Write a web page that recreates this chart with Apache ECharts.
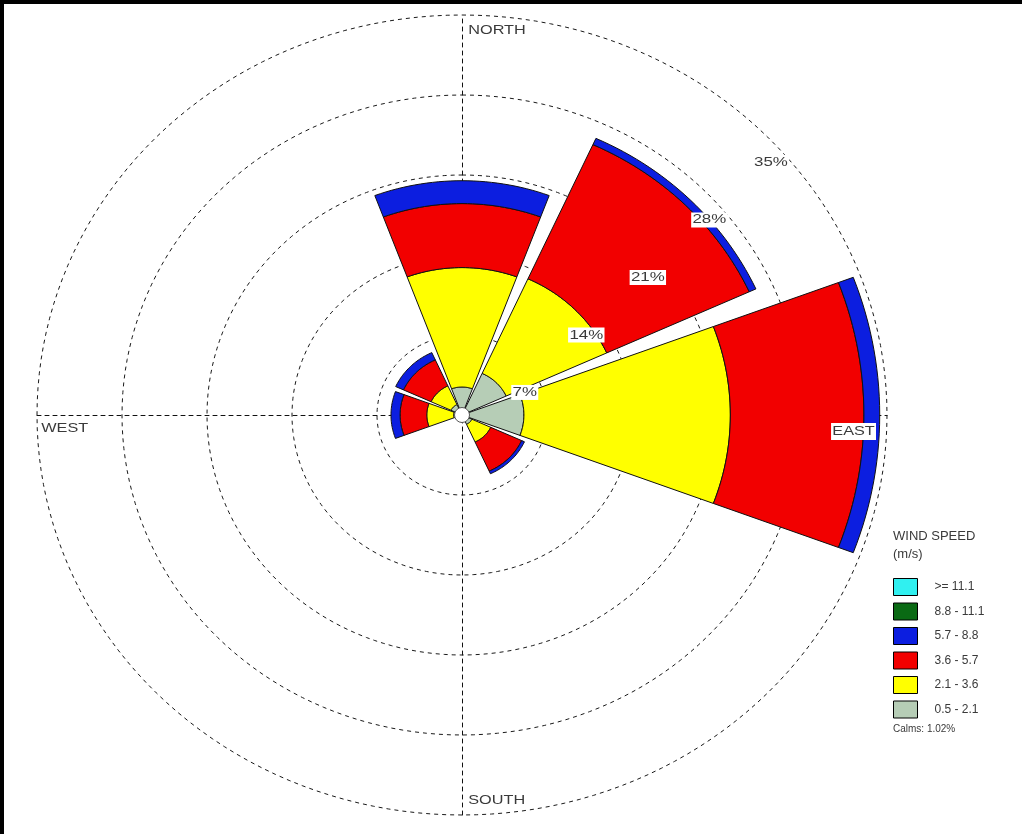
<!DOCTYPE html>
<html>
<head>
<meta charset="utf-8">
<script src="https://cdn.jsdelivr.net/npm/echarts@6/dist/echarts.min.js"></script>
<style>
html,body{margin:0;padding:0;background:#fff;}
#chart{width:1022px;height:834px;}
</style>
</head>
<body>
<div id="chart"></div>
<script>
// ---------- data ----------
const directions = ['N', 'NE', 'E', 'SE', 'S', 'SW', 'W', 'NW'];
const speedClasses = ['0.5 - 2.1', '2.1 - 3.6', '3.6 - 5.7', '5.7 - 8.8', '8.8 - 11.1', '>= 11.1'];
const speed_0_5_to_2_1  = [2.45, 4.0, 5.1, 0.9, 0.3, 0.2, 0.7, 1.0];
const speed_2_1_to_3_6  = [10.45, 9.1, 17.0, 1.7, 0, 0, 2.2, 1.8];
const speed_3_6_to_5_7  = [5.6, 12.9, 11.0, 2.8, 0, 0, 2.2, 2.5];
const speed_5_7_to_8_8  = [2.0, 0.6, 1.3, 0.25, 0, 0, 0.75, 0.7];
const speed_8_8_to_11_1 = [0, 0, 0, 0, 0, 0, 0, 0];
const speed_ge_11_1     = [0, 0, 0, 0, 0, 0, 0, 0];
const ringTicks = [7, 14, 21, 28, 35];
const ringTickLabels = ['7%', '14%', '21%', '28%', '35%'];
const compassLabels = ['NORTH', 'EAST', 'SOUTH', 'WEST'];
const legendTitle = 'WIND SPEED\n(m/s)';
const calmsText = 'Calms: 1.02%';

// ---------- styles ----------
const classColors = ['#b6cdb6', '#ffff00', '#f20000', '#0c1ee0', '#0a6a14', '#30f0f0'];
const FONT = '"Liberation Sans", Arial, sans-serif';
const TEXT_COLOR = '#3a3a3a';
const HALF_WIDTH = 20.5; // degrees, half of sector width
const MAX_R = 35;

const classValues = [speed_0_5_to_2_1, speed_2_1_to_3_6, speed_3_6_to_5_7,
                     speed_5_7_to_8_8, speed_8_8_to_11_1, speed_ge_11_1];

// cumulative stacking
const cumulative = directions.map(() => 0);
const sectorSeries = classValues.map((vals, ci) => {
  const data = vals.map((v, di) => {
    const start = cumulative[di];
    const end = start + v;
    cumulative[di] = end;
    return [di, start, end];
  });
  return {
    type: 'custom',
    name: speedClasses[ci],
    coordinateSystem: 'cartesian2d',
    z: 3,
    color: classColors[ci],
    itemStyle: { color: classColors[ci], borderColor: '#000', borderWidth: 1 },
    data: data,
    encode: { x: 1, y: 2 },
    renderItem: function (params, api) {
      const di = api.value(0), r0 = api.value(1), r1 = api.value(2);
      if (!(r1 - r0 > 0)) return;
      const c = di * 45, n = 30;
      const pts = [];
      for (let k = 0; k <= n; k++) {
        const a = (c - HALF_WIDTH + 2 * HALF_WIDTH * k / n) * Math.PI / 180;
        pts.push(api.coord([r1 * Math.sin(a), r1 * Math.cos(a)]));
      }
      if (r0 > 0) {
        for (let k = n; k >= 0; k--) {
          const a = (c - HALF_WIDTH + 2 * HALF_WIDTH * k / n) * Math.PI / 180;
          pts.push(api.coord([r0 * Math.sin(a), r0 * Math.cos(a)]));
        }
      } else {
        pts.push(api.coord([0, 0]));
      }
      return {
        type: 'polygon',
        shape: { points: pts },
        style: { fill: classColors[ci], stroke: '#111', lineWidth: 1 }
      };
    }
  };
});

const ringSeries = {
  type: 'custom',
  name: 'rings',
  coordinateSystem: 'cartesian2d',
  silent: true,
  z: 1,
  data: ringTicks.map(r => [r]),
  renderItem: function (params, api) {
    const r = api.value(0);
    const pts = [];
    for (let k = 0; k <= 180; k++) {
      const a = k * 2 * Math.PI / 180;
      pts.push(api.coord([r * Math.sin(a), r * Math.cos(a)]));
    }
    return {
      type: 'polyline',
      shape: { points: pts },
      style: { fill: null, stroke: '#1a1a1a', lineWidth: 1, lineDash: [4, 4] }
    };
  }
};

const ringLabelSeries = {
  type: 'custom',
  name: 'ringLabels',
  coordinateSystem: 'cartesian2d',
  silent: true,
  z: 10,
  data: ringTicks.map((r, i) => [r, i]),
  renderItem: function (params, api) {
    const r = api.value(0);
    const p = api.coord([0.724 * r + 0.1, 0.719 * r - 3.06]);
    return {
      type: 'text',
      x: p[0], y: p[1], scaleX: 1.3,
      style: {
        text: ringTickLabels[api.value(1)],
        fill: TEXT_COLOR, font: '13px ' + FONT,
        align: 'center', verticalAlign: 'middle',
        backgroundColor: '#fff', padding: [1, 1, 1, 1]
      }
    };
  }
};

const compassSeries = {
  type: 'custom',
  name: 'compass',
  coordinateSystem: 'cartesian2d',
  silent: true,
  z: 10,
  data: compassLabels.map((t, i) => [i * 90, i]),
  renderItem: function (params, api) {
    const ang = api.value(0) * Math.PI / 180;
    const idx = api.value(1);
    const p = api.coord([MAX_R * Math.sin(ang), MAX_R * Math.cos(ang)]);
    const cfg = [
      { dx: 5, dy: 7, align: 'left', va: 'top' },      // NORTH
      { dx: -11, dy: 8, align: 'right', va: 'top' },   // EAST
      { dx: 5, dy: -6, align: 'left', va: 'bottom' },  // SOUTH
      { dx: 3, dy: 5, align: 'left', va: 'top' }       // WEST
    ][idx];
    return {
      type: 'text',
      x: p[0] + cfg.dx, y: p[1] + cfg.dy, scaleX: 1.25,
      style: {
        text: compassLabels[idx],
        fill: TEXT_COLOR, font: '13px ' + FONT,
        align: cfg.align, verticalAlign: cfg.va,
        backgroundColor: '#fff', padding: [2, 1, 2, 1]
      }
    };
  }
};

const calmSeries = {
  type: 'custom',
  name: 'calm',
  coordinateSystem: 'cartesian2d',
  silent: true,
  z: 6,
  data: [[0, 0]],
  renderItem: function (params, api) {
    const p = api.coord([api.value(0), api.value(1)]);
    return {
      type: 'circle',
      shape: { cx: p[0], cy: p[1], r: 7.5 },
      style: { fill: '#fff', stroke: '#555', lineWidth: 1 }
    };
  }
};

const axisCommon = {
  type: 'value', min: -MAX_R, max: MAX_R,
  axisLine: { show: true, onZero: true, lineStyle: { color: '#111', width: 1, type: [4, 4] } },
  axisTick: { show: false }, axisLabel: { show: false }, splitLine: { show: false }
};

const chart = echarts.init(document.getElementById('chart'), null, { renderer: 'canvas' });
chart.setOption({
  animation: false,
  backgroundColor: '#fff',
  title: [
    { text: legendTitle, left: 893, top: 527, padding: 0,
      textStyle: { fontSize: 13, fontWeight: 'normal', color: TEXT_COLOR, fontFamily: FONT, lineHeight: 18 } },
    { text: calmsText, left: 893, top: 724, padding: 0,
      textStyle: { fontSize: 10, fontWeight: 'normal', color: TEXT_COLOR, fontFamily: FONT } }
  ],
  legend: {
    orient: 'vertical', left: 893, top: 578, padding: 0,
    itemWidth: 24, itemHeight: 17, itemGap: 6.5, icon: 'rect',
    selectedMode: false,
    data: speedClasses.slice().reverse(),
    itemStyle: { borderColor: '#000', borderWidth: 1 },
    textStyle: { fontSize: 12, color: TEXT_COLOR, fontFamily: FONT, padding: [0, 0, 0, 12] }
  },
  grid: { left: 37, top: 15, width: 850, height: 800 },
  xAxis: axisCommon,
  yAxis: axisCommon,
  graphic: [
    { type: 'rect', left: 0, top: 0, shape: { width: 1022, height: 4 }, style: { fill: '#000' }, z: 100 },
    { type: 'rect', left: 0, top: 0, shape: { width: 4, height: 834 }, style: { fill: '#000' }, z: 100 }
  ],
  series: [ringSeries].concat(sectorSeries, [calmSeries, ringLabelSeries, compassSeries])
});
</script>
</body>
</html>
